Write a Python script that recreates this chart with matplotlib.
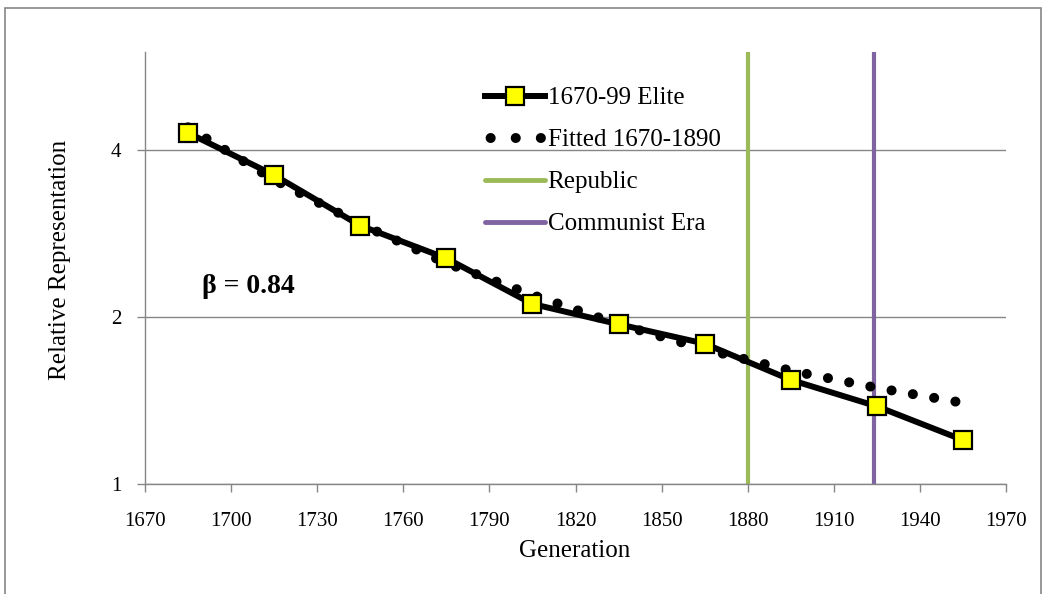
import matplotlib
matplotlib.use("Agg")
import matplotlib.pyplot as plt
from matplotlib.lines import Line2D
from matplotlib.patches import Rectangle
from matplotlib.ticker import FixedLocator, NullLocator

# ---- data ----
elite_years = [1685, 1715, 1745, 1775, 1805, 1835, 1865, 1895, 1925, 1955]
elite_values = [4.29, 3.60, 2.92, 2.55, 2.11, 1.94, 1.79, 1.54, 1.38, 1.20]

fitted_years = [1685, 1715, 1745, 1775, 1805, 1835, 1865, 1895, 1925, 1955]
fitted_values = [4.39, 3.53, 2.94, 2.50, 2.19, 1.94, 1.75, 1.60, 1.49, 1.40]

republic_year = 1880
communist_year = 1924

x_ticks = [1670, 1700, 1730, 1760, 1790, 1820, 1850, 1880, 1910, 1940, 1970]
y_ticks = [1, 2, 4]
y_ticklabels = ["1", "2", "4"]

labels = ["1670-99 Elite", "Fitted 1670-1890", "Republic", "Communist Era"]
beta_text = "β = 0.84"

# ---- style ----
FONT = ["Liberation Serif", "DejaVu Serif"]
plt.rcParams["font.family"] = FONT
GRAY = "#868686"
GREEN = "#9BBB59"
PURPLE = "#8064A2"
FS_TICK = 15
FS_LEG = 18
FS_LAB = 18

W, H = 1047, 594
fig = plt.figure(figsize=(W / 100, H / 100), dpi=100)
ax = fig.add_axes([145 / W, 1 - 484 / H, (1006 - 145) / W, (484 - 52) / H])

ax.set_yscale("log", base=2)
ax.set_xlim(1670, 1970)
ax.set_ylim(1, 6)

ax.yaxis.set_major_locator(FixedLocator(y_ticks))
ax.yaxis.set_minor_locator(NullLocator())
ax.set_yticklabels(y_ticklabels)
ax.set_xticks(x_ticks)

for s in ["top", "right"]:
    ax.spines[s].set_visible(False)
for s in ["left", "bottom"]:
    ax.spines[s].set_color(GRAY)
    ax.spines[s].set_linewidth(1.0)

ax.tick_params(axis="x", direction="out", length=6, width=1, color=GRAY,
               labelsize=FS_TICK, pad=14)
ax.tick_params(axis="y", direction="out", length=6, width=1, color=GRAY,
               labelsize=FS_TICK, pad=11)
ax.yaxis.grid(True, color=GRAY, linewidth=1)
ax.set_axisbelow(True)

# vertical lines
ax.axvline(republic_year, color=GREEN, linewidth=3, zorder=2)
ax.axvline(communist_year, color=PURPLE, linewidth=3, zorder=2)

# fitted dotted curve
LW_FIT = 7.2
ax.plot(fitted_years, fitted_values, color="black", linewidth=LW_FIT,
        linestyle=(0, (0.01, 2.15)), dash_capstyle="round", zorder=3)

# elite line
ax.plot(elite_years, elite_values, color="black", linewidth=4.3,
        marker="s", markersize=13, markerfacecolor="#FFFF00",
        markeredgecolor="black", markeredgewidth=1.6, zorder=4)

ax.text(1690, 2.27, beta_text, fontsize=20, fontweight="bold",
        va="center", ha="left")

# legend
h_elite = Line2D([], [], color="black", linewidth=4.3, marker="s",
                 markersize=13, markerfacecolor="#FFFF00",
                 markeredgecolor="black", markeredgewidth=1.6)
h_fit = Line2D([], [], color="black", linewidth=LW_FIT,
               linestyle=(1.95, (0.01, 2.5)), dash_capstyle="round")
h_rep = Line2D([], [], color=GREEN, linewidth=3.5, solid_capstyle="round")
h_com = Line2D([], [], color=PURPLE, linewidth=3.5, solid_capstyle="round")
leg = fig.legend([h_elite, h_fit, h_rep, h_com], labels,
                 loc="upper left", bbox_to_anchor=(485 / W, 1 - 87 / H),
                 frameon=False, fontsize=FS_LEG, handlelength=2.4,
                 handletextpad=0.1, labelspacing=0.78, borderaxespad=0,
                 borderpad=0)

fig.text(575 / W, 1 - 551 / H, "Generation", fontsize=FS_LAB, ha="center", va="center")
fig.text(60 / W, 1 - 260 / H, "Relative Representation", fontsize=FS_LAB,
         ha="center", va="center", rotation=90)

# outer chart border
fig.patches.append(Rectangle((5 / W, -0.05), (1041 - 5) / W, 1 - 8 / H + 0.05,
                             transform=fig.transFigure, fill=False,
                             edgecolor=GRAY, linewidth=1.2))

fig.savefig("out.png", dpi=100)
